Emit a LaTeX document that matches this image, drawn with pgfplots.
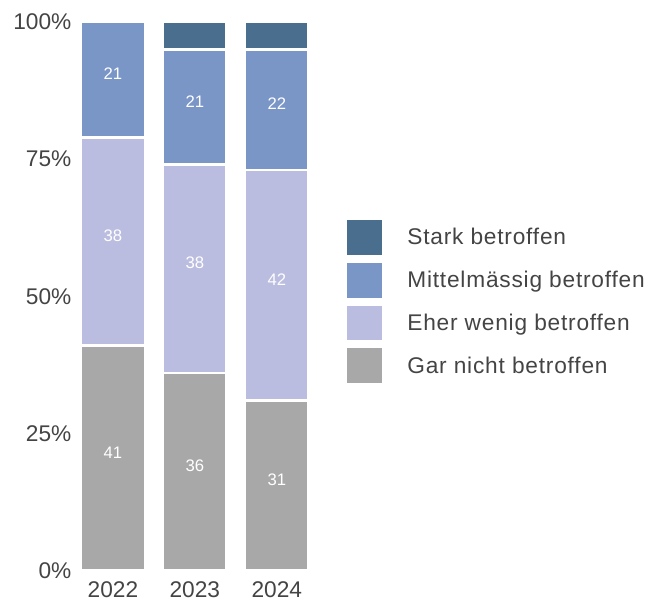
\documentclass[border=0pt]{standalone}
\usepackage{pgfplots}
\pgfplotsset{compat=1.18}
\usepackage{fontspec}
\setmainfont{Liberation Sans}
\newfontfamily\legfont[LetterSpace=3.5]{Liberation Sans}
\definecolor{cStark}{HTML}{4A6F8E}
\definecolor{cMittel}{HTML}{7A96C6}
\definecolor{cEher}{HTML}{BBBDE0}
\definecolor{cGar}{HTML}{A8A8A8}
\definecolor{txt}{HTML}{444444}
\pgfplotsset{
  base/.style={
    scale only axis, width=178pt, height=411pt,
    xmin=-0.45, xmax=2.45, ymin=0, ymax=100,
    axis line style={draw=none}, tick style={draw=none},
  }
}
\begin{document}
\begin{tikzpicture}
\begin{axis}[base, name=main, ybar stacked, bar width=0.78,
  xtick={0,1,2}, xticklabels={2022,2023,2024},
  ytick={0,25,50,75,100}, yticklabel={\pgfmathprintnumber{\tick}\%},
  /pgf/number format/assume math mode=true,
  ticklabel style={font=\fontsize{17}{19}\selectfont, text=txt},
  xticklabel style={yshift=-5pt},
  reverse legend,
  legend cell align=left,
  legend style={at={(1,0.49)}, anchor=west, xshift=25pt, draw=none, fill=none,
    inner sep=0pt, row sep=6pt, font=\legfont\fontsize{17}{19}\selectfont, text=txt,
    nodes={inner sep=0pt},
    /tikz/every odd column/.style={column sep=19pt}},
  legend image code/.code={\fill[#1, draw=none] (0pt,-13pt) rectangle (26pt,13pt);},
]
\addplot[fill=cGar, draw=white, line width=2pt] coordinates {(0,41) (1,36) (2,31)};
\addplot[fill=cEher, draw=white, line width=2pt] coordinates {(0,38) (1,38) (2,42)};
\addplot[fill=cMittel, draw=white, line width=2pt] coordinates {(0,21) (1,21) (2,22)};
\addplot[fill=cStark, draw=white, line width=2pt] coordinates {(0,0) (1,5) (2,5)};
\legend{Gar nicht betroffen, Eher wenig betroffen, Mittelmässig betroffen, Stark betroffen}
\end{axis}
\begin{axis}[base, xtick=\empty, ytick=\empty]
\addplot[draw=none, mark=none, nodes near coords, point meta=explicit symbolic,
  nodes near coords align={center},
  every node near coord/.style={anchor=base, text=white, font=\fontsize{12.5}{14}\selectfont}]
  coordinates {(0,20.5)[41] (1,18)[36] (2,15.5)[31]
               (0,60)[38] (1,55)[38] (2,52)[42]
               (0,89.5)[21] (1,84.5)[21] (2,84)[22]};
\end{axis}
\path (main.south west) ++(-57pt,-30pt);
\path (main.north east) ++(255pt,16.5pt);
\end{tikzpicture}
\end{document}
